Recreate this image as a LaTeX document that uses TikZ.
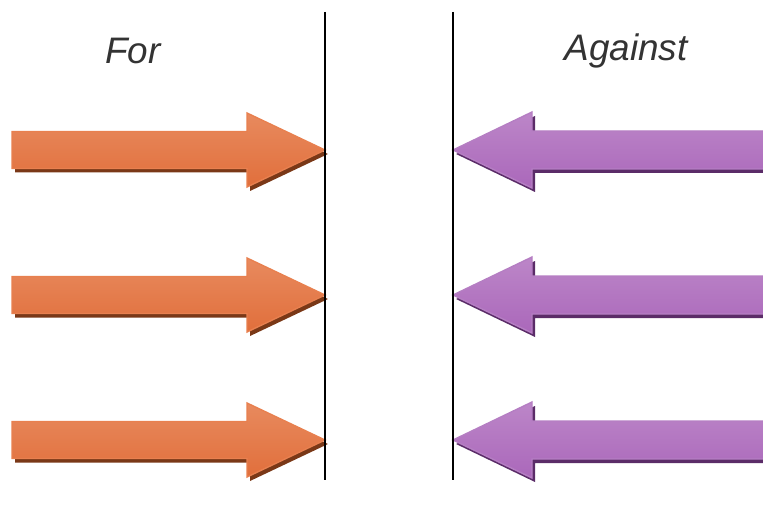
\documentclass[tikz,border=0pt]{standalone}
\usepackage{fontspec}
\setmainfont{Liberation Sans}

\definecolor{textgray}{HTML}{333333}
\definecolor{forfill}{HTML}{DF6833}
\definecolor{forlight}{HTML}{E88A5E}
\definecolor{forline}{HTML}{E8804F}
\definecolor{forshadow}{HTML}{7A3817}
\definecolor{agfill}{HTML}{A660B7}
\definecolor{aglight}{HTML}{BC86C8}
\definecolor{agline}{HTML}{B57EC3}
\definecolor{agshadow}{HTML}{5B2C68}

\begin{document}
\begin{tikzpicture}[
    x=0.02cm, y=-0.02cm,
    heading/.style={font=\fontsize{21}{25}\selectfont\itshape, text=textgray},
    forarrow/.style={draw=forline, line width=0.8pt, top color=forlight, middle color=forfill, bottom color=forfill!80!forlight},
    agarrow/.style={draw=agline, line width=0.8pt, top color=aglight, middle color=agfill, bottom color=agfill!80!aglight},
    divider/.style={black, line width=0.9pt}
]
\useasboundingbox (0,0) rectangle (763,506);

% headings
\node[heading] (for) at (133,51) {For};
\node[heading] (against) at (626,51) {Against};

% arrows pointing right (for)
\foreach \c in {150,295,440} {
    \fill[forshadow, shift={(3,4)}] (12,\c-18.5) -- (247,\c-18.5) -- (247,\c-37) -- (325,\c) -- (247,\c+37) -- (247,\c+18.5) -- (12,\c+18.5) -- cycle;
    \shade[forarrow] (12,\c-18.5) -- (247,\c-18.5) -- (247,\c-37) -- (325,\c) -- (247,\c+37) -- (247,\c+18.5) -- (12,\c+18.5) -- cycle;
}

% arrows pointing left (against)
\foreach \c in {150,295,440} {
    \fill[agshadow, shift={(3,4)}] (770,\c-19) -- (532,\c-19) -- (532,\c-38) -- (453,\c) -- (532,\c+38) -- (532,\c+19) -- (770,\c+19) -- cycle;
    \shade[agarrow] (770,\c-19) -- (532,\c-19) -- (532,\c-38) -- (453,\c) -- (532,\c+38) -- (532,\c+19) -- (770,\c+19) -- cycle;
}

% dividing lines
\coordinate (ltop) at (325,12);
\coordinate (lbot) at (325,480);
\coordinate (rtop) at (453,12);
\coordinate (rbot) at (453,480);
\draw[divider] (ltop) -- (lbot);
\draw[divider] (rtop) -- (rbot);
\end{tikzpicture}
\end{document}
